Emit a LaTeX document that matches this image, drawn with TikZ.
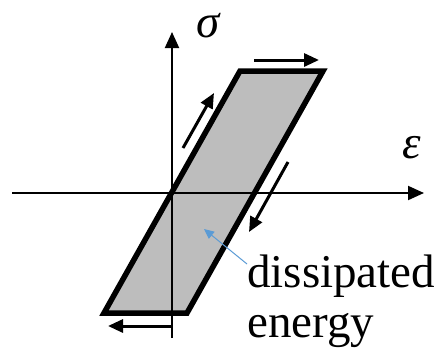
\documentclass[tikz,border=0pt]{standalone}
\usepackage{fontspec}
\setmainfont{Liberation Serif}
\usetikzlibrary{arrows.meta}
\definecolor{hintblue}{RGB}{91,155,213}
\tikzset{
  axis/.style={line width=2pt,-{Triangle[length=16pt,width=14pt]}},
  loop/.style={line width=5.5pt,line join=miter,fill=black!26},
  dirarrow/.style={line width=3pt,-{Triangle[length=15pt,width=13pt]}},
  lbl/.style={inner sep=0pt,font=\fontsize{47}{50}\selectfont}
}
\begin{document}
\begin{tikzpicture}[x=1pt,y=-1pt]
\useasboundingbox (0,0) rectangle (444,357);
\coordinate (tl) at (240,71);
\coordinate (tr) at (323,71);
\coordinate (br) at (187,313);
\coordinate (bl) at (104,313);
\draw[loop] (tl) -- (tr) -- (br) -- (bl) -- cycle;
\coordinate (xs) at (12,193);
\coordinate (xe) at (424,193);
\coordinate (ys) at (172,338);
\coordinate (ye) at (172,32);
\draw[axis] (xs) -- (xe);
\draw[axis] (ys) -- (ye);
\node[lbl] (sig) at (208,26) {\itshape σ};
\node[lbl] (eps) at (412,148) {\itshape ε};
\coordinate (a1s) at (254,60);
\coordinate (a1e) at (319,60);
\draw[dirarrow] (a1s) -- (a1e);
\coordinate (a2s) at (183,148);
\coordinate (a2e) at (214,93);
\draw[dirarrow] (a2s) -- (a2e);
\coordinate (a3s) at (288,162);
\coordinate (a3e) at (249,232);
\draw[dirarrow] (a3s) -- (a3e);
\coordinate (a4s) at (172,326);
\coordinate (a4e) at (108,326);
\draw[dirarrow] (a4s) -- (a4e);
\node[lbl,anchor=base west] (txt) at (247,287) {dissipated};
\node[lbl,anchor=base west] (txt2) at (247,337) {energy};
\coordinate (bs) at (247,264);
\coordinate (be) at (204,229);
\draw[hintblue,line width=1pt,-{Triangle[length=10pt,width=9pt]}] (bs) -- (be);
\end{tikzpicture}
\end{document}
